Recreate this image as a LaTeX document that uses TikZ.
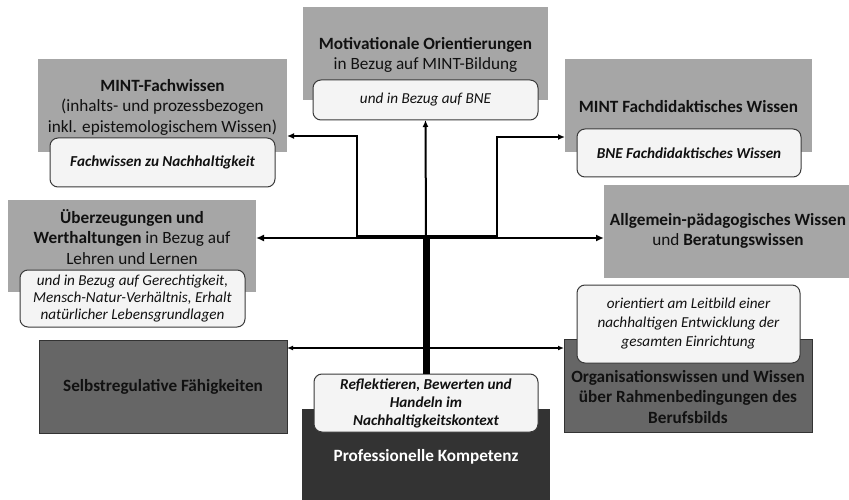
\documentclass[tikz,border=0pt]{standalone}
\usepackage{fontspec}
\setmainfont{Carlito}
\usetikzlibrary{arrows.meta}

\definecolor{boxlight}{HTML}{A6A6A6}
\definecolor{boxmid}{HTML}{666666}
\definecolor{boxdark}{HTML}{333333}
\definecolor{notefill}{HTML}{F4F4F4}
\definecolor{noteline}{HTML}{3A3A3A}
\definecolor{ink}{HTML}{111111}

\tikzset{
  area/.style={anchor=north west, inner sep=0pt, outer sep=0pt},
  sz/.style 2 args={minimum width=#1, minimum height=#2},
  lightbox/.style={area, fill=boxlight},
  midbox/.style={area, fill=boxmid, draw=boxdark, line width=0.8pt},
  darkbox/.style={area, fill=boxdark},
  note/.style={area, fill=notefill, draw=noteline, line width=1pt,
    rounded corners=8pt, align=center,
    font=\fontsize{15.2}{18}\selectfont\itshape, text=ink},
  boldnote/.style={note, font=\fontsize{15.2}{18}\selectfont\bfseries\itshape},
  heading/.style={align=center, inner sep=0pt,
    font=\fontsize{17.2}{20.5}\selectfont, text=ink},
  tip/.style={-{Latex[length=7pt,width=6pt]}},
  link/.style={tip, line width=2pt},
  mainlink/.style={{Latex[length=8pt,width=7pt]}-{Latex[length=8pt,width=7pt]}, line width=2.5pt},
  baselink/.style={{Latex[length=6pt,width=5pt]}-{Latex[length=6pt,width=5pt]}, line width=1.5pt},
  spine/.style={line width=7pt}
}

\begin{document}
\begin{tikzpicture}[x=1pt,y=-1pt]
\useasboundingbox (0,0) rectangle (849,500);

% --- upper row ---------------------------------------------------------
\node[lightbox, sz={245}{93}] (motG) at (303,7) {};
\node[heading] (motT) at (425.5,55)
  {\textbf{Motivationale Orientierungen}\\in Bezug auf MINT-Bildung};
\node[note, sz={225}{40}] (motN) at (313,80) {und in Bezug auf BNE};

\node[lightbox, sz={249}{93}] (fachG) at (38,59) {};
\node[heading] (fachT) at (162.5,107)
  {\textbf{MINT-Fachwissen}\\(inhalts- und prozessbezogen\\inkl. epistemologischem Wissen)};
\node[boldnote, sz={225}{49}] (fachN) at (50,138) {Fachwissen zu Nachhaltigkeit};

\node[lightbox, sz={247}{93}] (didG) at (565,59) {};
\node[heading] (didT) at (688.5,107) {\textbf{MINT Fachdidaktisches Wissen}};
\node[boldnote, sz={224}{48}] (didN) at (577,129) {BNE Fachdidaktisches Wissen};

% --- middle row --------------------------------------------------------
\node[lightbox, sz={248}{92}] (wertG) at (8,200) {};
\node[heading] (wertT) at (132,237)
  {\textbf{Überzeugungen und}\\\textbf{Werthaltungen} in Bezug auf\\Lehren und Lernen};
\node[note, sz={225}{57}, font=\fontsize{15.2}{17}\selectfont\itshape] (wertN) at (20,270)
  {und in Bezug auf Gerechtigkeit,\\Mensch-Natur-Verhältnis, Erhalt\\natürlicher Lebensgrundlagen};

\node[lightbox, sz={248}{93}] (paedG) at (604,185) {};
\node[heading] (paedT) at (728,231)
  {\textbf{Allgemein-pädagogisches Wissen}\\und \textbf{Beratungswissen}};

% --- lower row ---------------------------------------------------------
\node[midbox, sz={248}{93}] (selbG) at (39,340) {};
\node[heading] (selbT) at (163,386.5) {\textbf{Selbstregulative Fähigkeiten}};

\node[midbox, sz={248}{93}] (orgG) at (564,339) {};
\node[heading] (orgT) at (688,397)
  {\textbf{Organisationswissen und Wissen}\\\textbf{über Rahmenbedingungen des}\\\textbf{Berufsbilds}};
\node[note, sz={223}{78}, font=\fontsize{15.2}{19}\selectfont\itshape] (orgN) at (577,285)
  {orientiert am Leitbild einer\\nachhaltigen Entwicklung der\\gesamten Einrichtung};

\node[darkbox, sz={248}{95}] (profG) at (302,409) {};
\node[heading, text=white] (profT) at (426,457) {\textbf{Professionelle Kompetenz}};

% --- connectors --------------------------------------------------------
\coordinate (hub) at (426,236);
\coordinate (axis) at (426,238);
\coordinate (leftbend) at (357,136);
\coordinate (rightbend) at (497,137);
\coordinate (baseline) at (426,348);

\draw[link] (hub) -| (leftbend) -- (fachG.east |- leftbend);
\draw[link] (hub) -| (rightbend) -- (didG.west |- rightbend);
\draw[line width=3pt] (hub) -- (rightbend |- hub);
\draw[mainlink] (wertG.east |- axis) -- (paedG.west |- axis);
\draw[link] (axis) -- (motN.south);
\draw[baselink] (selbG.east |- baseline) -- (orgG.west |- baseline);

\node[boldnote, sz={224}{58}] (reflN) at (314,374)
  {Reflektieren, Bewerten und\\Handeln im\\Nachhaltigkeitskontext};
\draw[spine] (axis) -- (reflN.north);
\end{tikzpicture}
\end{document}
